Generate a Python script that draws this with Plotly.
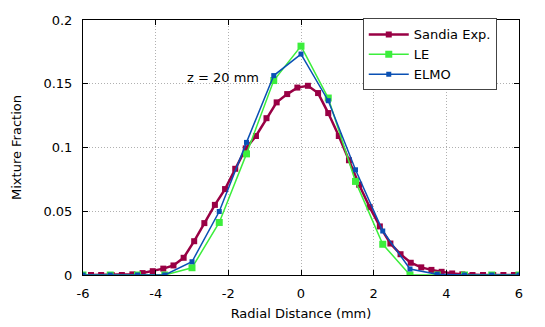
import plotly.graph_objects as go

# Sandia experiment (radial distance in mm, mixture fraction)
sandia_x = [-5.78, -5.50, -5.21, -4.93, -4.64, -4.36, -4.08, -3.79, -3.51, -3.23,
            -2.94, -2.66, -2.37, -2.09, -1.81, -1.52, -1.24, -0.95, -0.67, -0.38,
            -0.10, 0.19, 0.47, 0.75, 1.04, 1.32, 1.60, 1.89, 2.17, 2.46,
            2.74, 3.02, 3.31, 3.59, 3.87, 4.16, 4.44, 4.72, 5.01, 5.29,
            5.57, 5.86]
sandia_y = [0.0, 0.0, 0.0, 0.0, 0.0005, 0.0015, 0.003, 0.005, 0.0075, 0.0135,
            0.0265, 0.0407, 0.055, 0.0674, 0.0833, 0.0993, 0.109, 0.123, 0.1354, 0.1419,
            0.147, 0.1484, 0.1427, 0.127, 0.109, 0.090, 0.0708, 0.0532, 0.0381, 0.0247,
            0.0163, 0.0096, 0.006, 0.004, 0.0025, 0.0012, 0.0005, 0.0, 0.0, 0.0,
            0.0, 0.0]

# simulations share the same radial grid
sim_x = [-6, -5.25, -4.5, -3.75, -3.0, -2.25, -1.5, -0.75, 0,
         0.75, 1.5, 2.25, 3.0, 3.75, 4.5, 5.25, 6]
le_y = [0, 0, 0, 0, 0.0057, 0.0412, 0.095, 0.1525, 0.1795,
        0.1388, 0.0734, 0.0241, 0.0, 0, 0, 0, 0]
elmo_y = [0, 0, 0, 0, 0.0104, 0.0498, 0.104, 0.1564, 0.1733,
          0.1367, 0.0825, 0.0345, 0.0047, 0.0005, 0, 0, 0]

x_ticks = [-6, -4, -2, 0, 2, 4, 6]
x_tick_labels = ["-6", "-4", "-2", "0", "2", "4", "6"]
y_ticks = [0, 0.05, 0.1, 0.15, 0.2]
y_tick_labels = ["0", "0.05", "0.1", "0.15", "0.2"]

fig = go.Figure()
fig.add_trace(go.Scatter(x=sandia_x, y=sandia_y, name="Sandia Exp.", mode="lines+markers",
                         line=dict(color="#990044", width=2.5),
                         marker=dict(symbol="square", size=6, color="#990044")))
fig.add_trace(go.Scatter(x=sim_x, y=le_y, name="LE", mode="lines+markers",
                         line=dict(color="#3cee3c", width=1.5),
                         marker=dict(symbol="square", size=7, color="#3cee3c")))
fig.add_trace(go.Scatter(x=sim_x, y=elmo_y, name="ELMO", mode="lines+markers",
                         line=dict(color="#0a50b4", width=1.5),
                         marker=dict(symbol="square", size=5, color="#0a50b4")))

fig.add_annotation(x=-2.15, y=0.155, text="z = 20 mm", showarrow=False,
                   font=dict(size=13, color="black"))

axis_style = dict(showline=True, linecolor="black", linewidth=1, mirror="ticks",
                  ticks="inside", ticklen=5, tickcolor="black", automargin=False,
                  showgrid=True, gridcolor="#b0b0b0", griddash="1px,2px", gridwidth=1,
                  zeroline=False, tickfont=dict(size=13, color="black"))

fig.update_xaxes(range=[-6, 6], tickvals=x_ticks, ticktext=x_tick_labels, ticklabelstandoff=6,
                 title=dict(text="Radial Distance (mm)", standoff=9, font=dict(size=13)),
                 **axis_style)
fig.update_yaxes(range=[0, 0.2], tickvals=y_ticks, ticktext=y_tick_labels, ticklabelstandoff=7,
                 title=dict(text="Mixture Fraction", standoff=18, font=dict(size=13)),
                 **axis_style)

# page body has an 8px margin, so the figure is drawn 8px smaller and offset
fig.update_layout(
    width=537, height=319,
    margin=dict(l=75, r=26, t=10, b=52),
    paper_bgcolor="white", plot_bgcolor="white",
    font=dict(family="DejaVu Sans", size=13, color="black"),
    legend=dict(x=0.949, y=1.006, xanchor="right", yanchor="top",
                bordercolor="#444444", borderwidth=1, bgcolor="white",
                itemwidth=40, font=dict(size=13)),
)

fig.write_html("out.html")
